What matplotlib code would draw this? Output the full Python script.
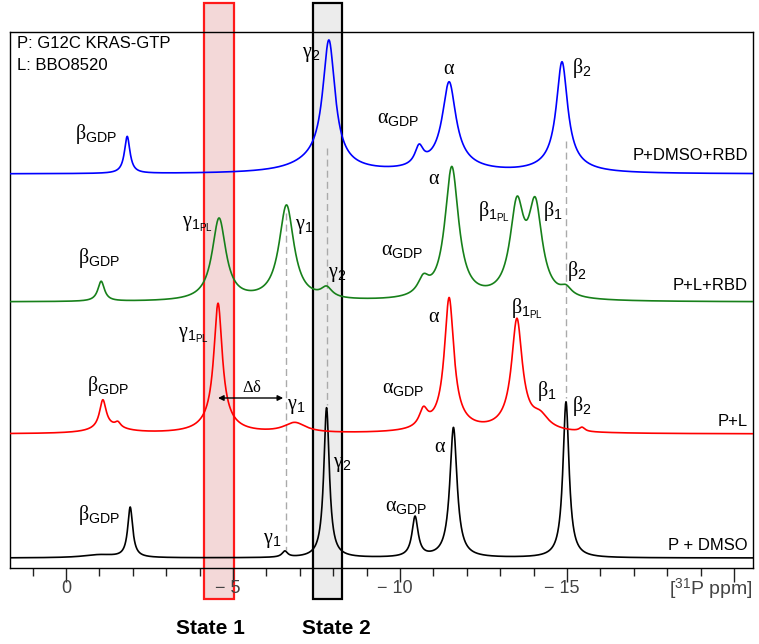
import numpy as np
import matplotlib
matplotlib.use("Agg")
import matplotlib.pyplot as plt
from matplotlib import transforms
from matplotlib.patches import Rectangle

plt.rcParams['font.family'] = ['Liberation Sans', 'DejaVu Sans']
plt.rcParams['mathtext.fontset'] = 'custom'
plt.rcParams['mathtext.rm'] = 'Liberation Serif'
plt.rcParams['mathtext.sf'] = 'Liberation Sans'
plt.rcParams['mathtext.it'] = 'Liberation Serif:italic'

# peak tables: position (ppm), height, half width (ppm)
# heights are in plot units above each trace's baseline
black_pos = [-1.92, -1.0, -6.55, -7.8, -10.45, -11.6, -14.97]
black_height = [50, 3, 6, 150, 40, 130, 156]
black_hw = [0.09, 0.6, 0.1, 0.1, 0.11, 0.13, 0.11]

red_pos = [-1.1, -1.3, -1.55, -4.55, -4.55, -6.85, -10.7, -11.47, -11.47, -13.5, -13.5, -14.2, -15.45]
red_height = [28, 6, 5, 118, 12, 10, 17, 126, 8, 104, 8, 12, 4]
red_hw = [0.12, 0.6, 0.1, 0.15, 0.5, 0.4, 0.15, 0.17, 0.7, 0.19, 0.6, 0.3, 0.1]

green_pos = [-1.05, -4.58, -6.6, -7.8, -10.7, -11.55, -13.5, -14.05, -14.97]
green_height = [20, 82, 95, 10, 16, 132, 88, 88, 8]
green_hw = [0.12, 0.25, 0.27, 0.2, 0.2, 0.25, 0.25, 0.25, 0.2]

blue_pos = [-1.83, -7.6, -7.87, -10.57, -11.47, -11.47, -14.85, -14.85]
blue_height = [37, 12, 122, 18, 80, 10, 102, 9]
blue_hw = [0.1, 0.9, 0.22, 0.15, 0.24, 0.8, 0.2, 0.7]

baselines = [10, 134, 266, 394]
trace_names = ["P + DMSO", "P+L", "P+L+RBD", "P+DMSO+RBD"]
name_heights = [22, 146, 282, 412]
trace_colors = ["black", "#ff0000", "#17801a", "#0000ff"]

state_ranges = [(-4.13, -5.03), (-7.40, -8.26)]
state_names = ["State 1", "State 2"]

tick_vals = [0, -5, -10, -15, -20]
tick_labels = ["0", "\u2212 5", "\u2212 10", "\u2212 15", ""]

# guide lines (ppm, top, bottom)
guides = [(-6.58, 355, 18), (-7.8, 420, 163), (-14.97, 427, 170)]

G = r'$\mathrm{\%s}_{\mathsf{%s}}$'
labels = [
    # blue
    (G % ('beta', 'GDP'), -0.27, 434), (G % ('gamma', '2'), -7.07, 513),
    (G % ('alpha', 'GDP'), -9.31, 449), (r'$\mathrm{\alpha}$', -11.29, 500),
    (G % ('beta', '2'), -15.15, 500),
    # green
    (G % ('beta', 'GDP'), -0.36, 310), (r'$\mathrm{\gamma}_{\mathsf{1}_{\mathsf{PL}}}$', -3.47, 344),
    (G % ('gamma', '1'), -6.86, 342), (G % ('gamma', '2'), -7.84, 294),
    (r'$\mathrm{\alpha}$', -10.84, 390), (G % ('alpha', 'GDP'), -9.43, 317),
    (r'$\mathrm{\beta}_{\mathsf{1}_{\mathsf{PL}}}$', -12.34, 356), (G % ('beta', '1'), -14.28, 357),
    (G % ('beta', '2'), -15.0, 297),
    # red
    (r'$\mathrm{\gamma}_{\mathsf{1}_{\mathsf{PL}}}$', -3.35, 233), (G % ('beta', 'GDP'), -0.63, 182),
    (G % ('gamma', '1'), -6.62, 161), (G % ('alpha', 'GDP'), -9.46, 179),
    (r'$\mathrm{\alpha}$', -10.84, 251), (r'$\mathrm{\beta}_{\mathsf{1}_{\mathsf{PL}}}$', -13.32, 259),
    (G % ('beta', '1'), -14.1, 177), (G % ('beta', '2'), -15.15, 162),
    # black
    (G % ('beta', 'GDP'), -0.36, 53), (G % ('gamma', '1'), -5.9, 28),
    (G % ('gamma', '2'), -7.99, 103), (G % ('alpha', 'GDP'), -9.55, 62),
    (r'$\mathrm{\alpha}$', -11.02, 121),
]


def spectrum(x, pos, height, hw):
    y = np.zeros_like(x)
    for p, h, w in zip(pos, height, hw):
        y += h / (1 + ((x - p) / w) ** 2)
    return y


fig = plt.figure(figsize=(7.59, 6.44), dpi=100)
ax = fig.add_axes([10 / 759, 76 / 644, 743 / 759, 536 / 644])

x = np.linspace(1.68, -20.57, 4000)
tables = [(black_pos, black_height, black_hw), (red_pos, red_height, red_hw),
          (green_pos, green_height, green_hw), (blue_pos, blue_height, blue_hw)]
for (pos, h, w), base, name, ny, col in zip(tables, baselines, trace_names,
                                            name_heights, trace_colors):
    ax.plot(x, base + spectrum(x, pos, h, w), color=col, lw=1.2, zorder=3)
    ax.text(-20.42, ny, name, ha='right', va='center', fontsize=12, zorder=4)

# state boxes sticking out of the frame
bt = transforms.blended_transform_factory(ax.transData, ax.transAxes)
box_styles = [dict(fc='#f3d8d8', ec='#ff1a1a'), dict(fc='#ececec', ec='black')]
for (a, b), st in zip(state_ranges, box_styles):
    ax.add_patch(Rectangle((a, -0.058), b - a, 1.112, transform=bt, clip_on=False,
                           lw=1.6, zorder=1, **st))
fig.text(210 / 759, 1 - 629 / 644, state_names[0], ha='center', va='center',
         fontsize=15, fontweight='bold')
fig.text(336 / 759, 1 - 629 / 644, state_names[1], ha='center', va='center',
         fontsize=15, fontweight='bold')

for p, y0, y1 in guides:
    ax.plot([p, p], [y0, y1], color='#aaaaaa', lw=1.0, ls=(0, (5, 3)), zorder=2)

for txt, px, py in labels:
    ax.text(px, py, txt, ha='left', va='center', fontsize=14.5, zorder=5)

ax.annotate('', xy=(-4.55, 170), xytext=(-6.5, 170),
            arrowprops=dict(arrowstyle='<|-|>', color='black', lw=1.0,
                            mutation_scale=8, shrinkA=0, shrinkB=0), zorder=5)
ax.text(-5.57, 181, r'$\mathrm{\Delta\delta}$', ha='center', va='center', fontsize=12)

ax.text(1.47, 524, "P: G12C KRAS-GTP", ha='left', va='center', fontsize=12)
ax.text(1.47, 502, "L: BBO8520", ha='left', va='center', fontsize=12)

ax.set_xlim(1.68, -20.57)
ax.set_ylim(0, 536)
ax.set_yticks([])
ax.set_xticks(tick_vals)
ax.set_xticks(np.arange(1, -21, -1), minor=True)
ax.tick_params(axis='x', which='major', length=10, width=1.0, color='#222222',
               labelbottom=False)
ax.tick_params(axis='x', which='minor', length=6, width=1.0, color='#222222')
lab_tr = transforms.offset_copy(bt, fig=fig, x=-5, y=0, units='dots')
for v, lab in zip(tick_vals, tick_labels):
    ax.text(v, -0.038, lab, transform=lab_tr if v != 0 else bt, ha='center',
            va='center', fontsize=13, color='#444444', zorder=5)
ax.text(1.0, -0.04, r'[$^{\mathsf{31}}$P ppm]', transform=ax.transAxes, ha='right',
        va='center', fontsize=14, color='#444444')
for s in ax.spines.values():
    s.set_linewidth(1.0)

fig.savefig("out.png", dpi=100)
